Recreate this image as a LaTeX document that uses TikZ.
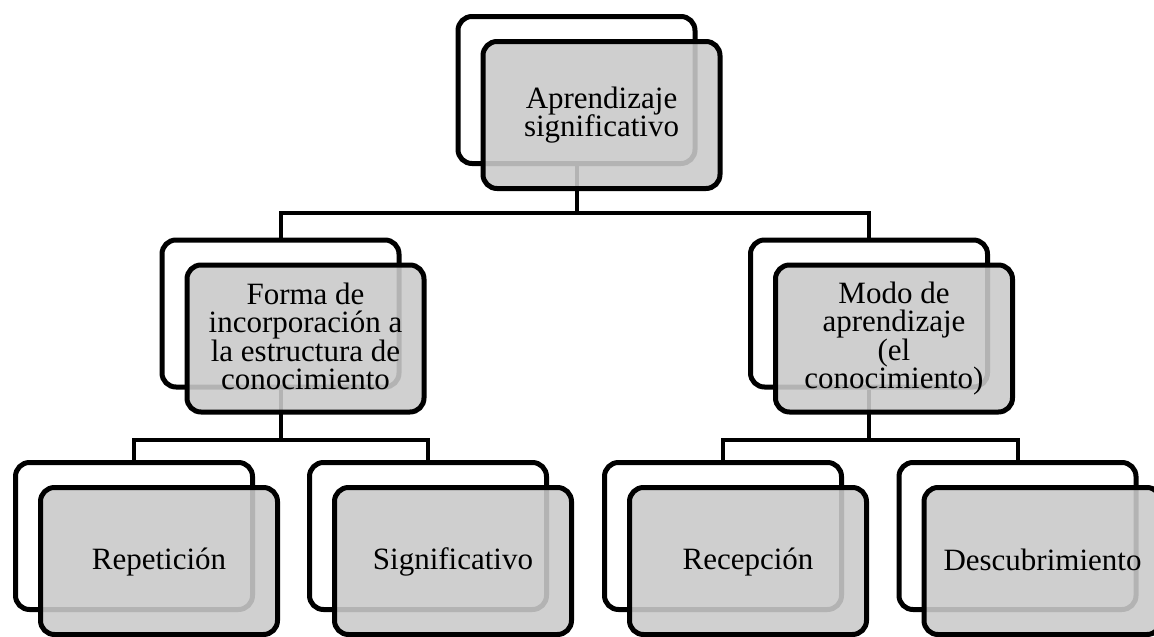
\documentclass[tikz,border=0pt]{standalone}
\usepackage{fontspec}
\setmainfont{Liberation Serif}
\usetikzlibrary{backgrounds}
\definecolor{boxgray}{RGB}{202,202,202}
\newcommand{\boxstrut}{\rule[-4.5pt]{0pt}{28.5pt}}
\begin{document}
\begin{tikzpicture}[x=1pt,y=-1pt,
  back/.style={draw=black, line width=5pt, rounded corners=14pt, fill=white,
    minimum width=237pt, minimum height=147pt, inner sep=0pt},
  front/.style={back, fill=boxgray, fill opacity=0.89, text opacity=1,
    font=\fontsize{31}{28.5}\selectfont, align=center,
    execute at begin node=\boxstrut, execute at end node=\boxstrut},
  conn/.style={line width=4pt}]
\useasboundingbox (0,0) rectangle (1154,637);
\clip (0,0) rectangle (1154,637);
\node[back] (w0) at (576.5,90) {};
\node[front] (g0) at (601.5,115) {Aprendizaje\\significativo};
\node[back] (w1) at (280.5,313.5) {};
\node[front] (g1) at (305.5,338.5) {Forma de\\incorporación a\\la estructura de\\conocimiento};
\node[back] (w2) at (869,313.5) {};
\node[front] (g2) at (894,338.5) {Modo de\\aprendizaje\\(el\\conocimiento)};
\node[back] (w3) at (134,536) {};
\node[front] (g3) at (159,561) {Repetición};
\node[back] (w4) at (428,536) {};
\node[front] (g4) at (453,561) {Significativo};
\node[back] (w5) at (723,536) {};
\node[front] (g5) at (748,561) {Recepción};
\node[back] (w6) at (1017.5,536) {};
\node[front] (g6) at (1042.5,561) {Descubrimiento};
\begin{scope}[on background layer]
\draw[conn] (w0.south) -- ++(0,46.5) -| (w1.north);
\draw[conn] (w0.south) -- ++(0,46.5) -| (w2.north);
\draw[conn] (w1.south) -- ++(0,50) -| (w3.north);
\draw[conn] (w1.south) -- ++(0,50) -| (w4.north);
\draw[conn] (w2.south) -- ++(0,50) -| (w5.north);
\draw[conn] (w2.south) -- ++(0,50) -| (w6.north);
\end{scope}
\end{tikzpicture}
\end{document}
